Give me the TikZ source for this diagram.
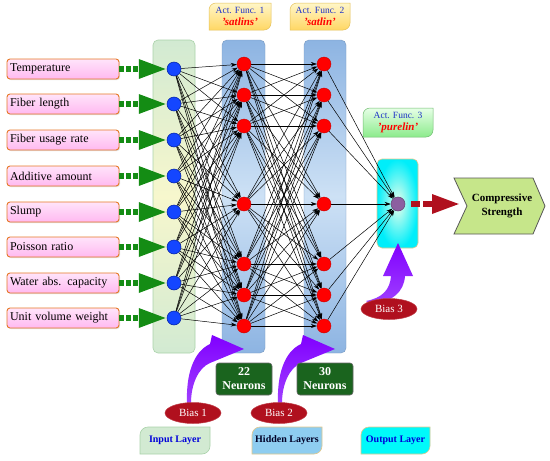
\documentclass[tikz,border=0pt]{standalone}
\usepackage{fontspec}
\setmainfont{Liberation Serif}
\usetikzlibrary{arrows.meta,shapes.geometric,shadows}
\pgfdeclarelayer{bg}
\pgfdeclarelayer{edges}
\pgfsetlayers{bg,edges,main}
\definecolor{boxorange}{RGB}{230,120,40}
\definecolor{pinktop}{RGB}{255,228,250}
\definecolor{pinkbot}{RGB}{255,185,240}
\definecolor{arrgreen}{RGB}{20,140,20}
\definecolor{inblue}{RGB}{20,70,255}
\definecolor{inbluedk}{RGB}{0,30,160}
\definecolor{nred}{RGB}{255,0,0}
\definecolor{nreddk}{RGB}{200,0,0}
\definecolor{layblue}{RGB}{141,180,226}
\definecolor{laybluelt}{RGB}{205,225,245}
\definecolor{laygreen}{RGB}{210,234,210}
\definecolor{layyellow}{RGB}{247,247,205}
\definecolor{laygreendk}{RGB}{170,210,170}
\definecolor{biasred}{RGB}{176,16,30}
\definecolor{bpurple}{RGB}{128,0,255}
\definecolor{neugreen}{RGB}{26,100,30}
\definecolor{outpurple}{RGB}{140,95,160}
\definecolor{csgreen}{RGB}{198,230,138}
\definecolor{txtblue}{RGB}{30,50,200}
\definecolor{afyelltop}{RGB}{255,246,200}
\definecolor{afyellbot}{RGB}{255,215,100}
\definecolor{afgreentop}{RGB}{230,255,230}
\definecolor{afgreenbot}{RGB}{140,235,140}
\definecolor{tanborder}{RGB}{225,200,140}
\definecolor{hidlab}{RGB}{142,205,240}
\definecolor{pcyan}{RGB}{0,238,250}
\definecolor{pcyanlt}{RGB}{235,255,235}
\definecolor{labcyan}{RGB}{0,250,250}
\newcommand\dgbox[6]{\path[#6] (#1,#4) -- (#1,#2+#5) arc[start angle=180,end angle=270,radius=#5] -- (#3,#2) -- (#3,#4-#5) arc[start angle=0,end angle=90,radius=#5] -- cycle;}
\begin{document}
\begin{tikzpicture}[x=1pt,y=-1pt,
  inbox/.style={draw=boxorange, line width=0.9pt, rounded corners=3pt,
    top color=pinktop, bottom color=pinkbot, minimum width=112pt, minimum height=20pt,
    text width=106pt, inner xsep=3pt, inner ysep=0pt, align=left,
    font=\fontsize{12}{14}\selectfont,
    drop shadow={shadow xshift=1pt, shadow yshift=-1pt, opacity=0.25}},
  inneur/.style={circle, fill=inblue, draw=inbluedk, line width=0.5pt, minimum size=14pt, inner sep=0pt},
  hidneur/.style={circle, fill=nred, draw=nreddk, line width=0.4pt, minimum size=14pt, inner sep=0pt},
  outneur/.style={circle, fill=outpurple, draw=outpurple!70!black, line width=0.5pt, minimum size=14pt, inner sep=0pt},
  garrow/.style={draw=arrgreen, line width=6pt, dash pattern=on 5pt off 2pt,
    -{Triangle[length=28pt,width=18pt]}},
  rarrow/.style={draw=biasred, line width=6pt, dash pattern=on 9pt off 3pt,
    -{Triangle[length=28pt,width=18pt]}},
  conn/.style={draw=black, line width=0.5pt, -{Stealth[length=6pt,width=4pt]}},
  biasnode/.style={ellipse, fill=biasred, draw=biasred!80!white, line width=0.5pt,
    minimum width=56pt, minimum height=21pt, inner sep=0pt, text=white,
    font=\fontsize{11}{13}\selectfont},
  neubox/.style={fill=neugreen, draw=black!60, line width=0.6pt, rounded corners=3pt,
    minimum width=56pt, minimum height=32pt, inner sep=1pt, align=center, text=white,
    font=\bfseries\fontsize{12}{14}\selectfont},
  aftext/.style={align=center, inner sep=0pt, font=\fontsize{9.5}{13}\selectfont, text=txtblue},
  labtext/.style={inner sep=0pt, font=\bfseries\fontsize{10}{12}\selectfont},
  purplearr/.style={top color=bpurple, bottom color=bpurple!75!white, draw=none}
]
\useasboundingbox (0,0) rectangle (550,461);

% ---------- layer rectangles ----------
\begin{pgfonlayer}{bg}
  \path[fill=white] (0,0) rectangle (550,461);
  \path[draw=laygreendk, line width=0.6pt, rounded corners=5pt,
        top color=laygreen, bottom color=laygreen, middle color=layyellow] (153,40) rectangle (195,353);
  \path[draw=layblue!85!black, line width=0.4pt, rounded corners=5pt,
        top color=layblue, bottom color=layblue, middle color=laybluelt] (222,40) rectangle (265,353);
  \path[draw=layblue!85!black, line width=0.4pt, rounded corners=5pt,
        top color=layblue, bottom color=layblue, middle color=laybluelt] (304,40) rectangle (346,353);
  \path[draw=tanborder, line width=0.6pt, rounded corners=5pt,
        inner color=pcyanlt, outer color=pcyan] (377,159) rectangle (418,248);
  % activation function boxes
  \dgbox{209}{3}{271}{30}{7}{draw=afyellbot!90!black, line width=0.5pt, top color=afyelltop, bottom color=afyellbot}
  \dgbox{290}{3}{350}{30}{7}{draw=afyellbot!90!black, line width=0.5pt, top color=afyelltop, bottom color=afyellbot}
  \dgbox{363}{108}{433}{137}{7}{draw=afgreenbot!80!black, line width=0.5pt, top color=afgreentop, bottom color=afgreenbot}
  % bottom layer labels
  \dgbox{140}{427}{210}{454}{8}{draw=laygreendk, line width=0.6pt, fill=laygreen}
  \dgbox{252}{427}{322}{454}{8}{draw=tanborder, line width=0.6pt, fill=hidlab}
  \dgbox{361}{427}{430}{454}{8}{draw=tanborder, line width=0.6pt, fill=labcyan}
  % output chevron
  \path[draw=black!65, line width=0.8pt, fill=csgreen]
     (454,178) -- (533,178) -- (545,206) -- (533,234) -- (454,234) -- (467,206) -- cycle;
\end{pgfonlayer}

% ---------- input boxes ----------
\node[inbox] (b1) at (63,69)  {Temperature};
\node[inbox] (b2) at (63,104) {Fiber length};
\node[inbox] (b3) at (63,140) {Fiber usage rate};
\node[inbox] (b4) at (63,176) {Additive amount};
\node[inbox] (b5) at (63,212) {Slump};
\node[inbox] (b6) at (63,247) {Poisson ratio};
\node[inbox] (b7) at (63,283) {Water abs. capacity};
\node[inbox] (b8) at (63,318) {Unit volume weight};

% ---------- neurons ----------
\foreach \y [count=\k] in {69,104,140,176,212,247,283,318}
  \node[inneur] (i\k) at (174,\y) {};
\foreach \y [count=\k] in {64,95,126,204,264,295,326}
  \node[hidneur] (h\k) at (244,\y) {};
\foreach \y [count=\k] in {64,95,126,204,264,295,326}
  \node[hidneur] (g\k) at (324,\y) {};
\node[outneur] (o) at (398,204) {};

% ---------- green input arrows ----------
\foreach \k in {1,...,8}
  \draw[garrow] (b\k.east) -- (i\k.west);

% ---------- connections ----------
\begin{pgfonlayer}{edges}
  \foreach \a in {1,...,8}
    \foreach \b in {1,...,7}
      \draw[conn] (i\a) -- (h\b);
  \foreach \a in {1,...,7}
    \foreach \b in {1,...,7}
      \draw[conn] (h\a) -- (g\b);
  \foreach \a in {1,...,7}
    \draw[conn] (g\a) -- (o);
\end{pgfonlayer}

% ---------- output arrow and chevron text ----------
\coordinate (cstip) at (460,204);
\draw[rarrow, shorten <=6pt] (o.east) -- (cstip);
\node[align=center, inner sep=0pt, font=\bfseries\fontsize{11}{14}\selectfont] (cs) at (502,206) {Compressive\\Strength};

% ---------- activation function texts ----------
\node[aftext] (af1) at (240,16.5) {Act. Func. 1\\[-1pt]{\color{nred}\bfseries\itshape\fontsize{11}{13}\selectfont 'satlins'}};
\node[aftext] (af2) at (320,16.5) {Act. Func. 2\\[-1pt]{\color{nred}\bfseries\itshape\fontsize{11}{13}\selectfont 'satlin'}};
\node[aftext] (af3) at (398,122.5) {Act. Func. 3\\[-1pt]{\color{nred}\bfseries\itshape\fontsize{11}{13}\selectfont 'purelin'}};

% ---------- purple bias arrows ----------
\path[purplearr] (187,403) .. controls (186,375) and (193,352) .. (210,344) -- (212,335) -- (244,349) -- (210,363) .. controls (198,368) and (191,385) .. (191,403) -- cycle;
\path[purplearr] (278,403) .. controls (277,375) and (284,352) .. (301,344) -- (303,335) -- (335,349) -- (301,363) .. controls (289,368) and (282,385) .. (282,403) -- cycle;
\path[purplearr] (366,301) .. controls (382,298) and (390,290) .. (391,276) -- (383,276) -- (398,243) -- (413,276) -- (405,276) .. controls (404,292) and (392,302) .. (372,304) -- cycle;

% ---------- bias nodes ----------
\node[biasnode] (bias1) at (193,413) {Bias 1};
\node[biasnode] (bias2) at (279,413) {Bias 2};
\node[biasnode] (bias3) at (389,309) {Bias 3};

% ---------- neuron count boxes ----------
\node[neubox] (n22) at (244,379) {22\\Neurons};
\node[neubox] (n30) at (325,379) {30\\Neurons};

% ---------- layer labels ----------
\node[labtext, text=blue!85!black] (lin) at (175,440.5) {Input Layer};
\node[labtext, text=black!85!blue] (lhid) at (287,440.5) {Hidden Layers};
\node[labtext, text=blue!85!black] (lout) at (395.5,440.5) {Output Layer};
\end{tikzpicture}
\end{document}
